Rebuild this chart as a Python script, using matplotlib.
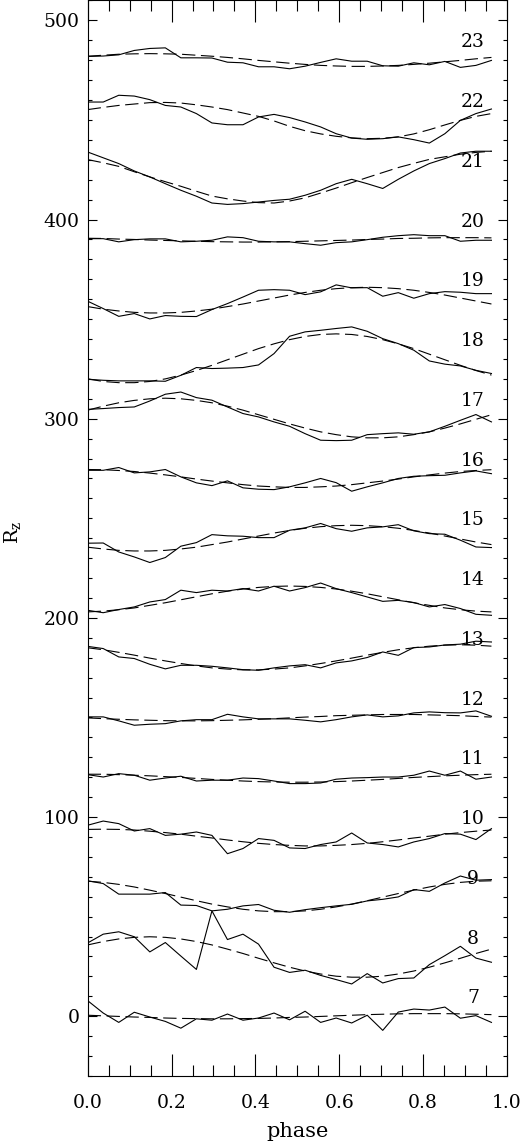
import matplotlib
matplotlib.use('Agg')
import matplotlib.pyplot as plt
import numpy as np
from matplotlib.ticker import MultipleLocator, FormatStrFormatter

plt.rcParams['font.family'] = ['DejaVu Serif']
plt.rcParams['mathtext.fontset'] = 'dejavuserif'

# 27 phase bins, 0 .. 26/27
phase = np.arange(27) / 27

# observed Rz (already shifted by 30 per cycle) and the fitted curves
obs_7 = [7.8, 1.6, -3.1, 2.0, -0.4, -2.6, -6.0, -1.3, -2.0, 1.1, -2.0, -0.9, 1.6, -1.8,
         2.5, -3.1, -0.9, -3.4, 0.5, -7.1, 2.1, 3.6, 3.1, 4.6, -1.0, 0.3, -3.1]
fit_7 = [0.5, 0.2, -0.1, -0.4, -0.6, -0.9, -1.1, -1.2, -1.3, -1.3, -1.2, -1.1, -0.9, -0.6,
         -0.4, -0.1, 0.2, 0.5, 0.8, 1.0, 1.2, 1.3, 1.3, 1.3, 1.2, 1.0, 0.8]

obs_8 = [36.8, 41.2, 42.4, 39.9, 32.3, 37.0, 30.2, 23.5, 52.9, 38.5, 41.2, 36.2, 24.6, 22.0,
         23.1, 20.5, 18.4, 16.2, 21.4, 16.7, 18.9, 19.2, 25.9, 30.4, 35.1, 29.2, 27.1]
fit_8 = [35.8, 37.5, 38.8, 39.6, 39.9, 39.6, 38.8, 37.5, 35.8, 33.7, 31.5, 29.1, 26.8, 24.6,
         22.7, 21.2, 20.1, 19.6, 19.6, 20.1, 21.2, 22.7, 24.6, 26.8, 29.1, 31.5, 33.7]

obs_9 = [68.0, 66.6, 61.3, 61.3, 61.3, 62.1, 55.8, 55.6, 52.9, 53.7, 55.4, 56.1, 53.2, 52.2,
         53.5, 54.5, 55.4, 56.2, 57.9, 58.7, 59.9, 63.6, 62.7, 66.9, 70.4, 68.3, 68.6]
fit_9 = [67.8, 67.2, 66.2, 64.9, 63.3, 61.6, 59.8, 58.0, 56.3, 54.9, 53.7, 52.9, 52.5, 52.5,
         52.9, 53.7, 54.9, 56.3, 58.0, 59.8, 61.6, 63.3, 64.9, 66.2, 67.2, 67.8, 68.0]

obs_10 = [95.9, 98.0, 96.7, 93.0, 94.2, 90.8, 91.4, 92.5, 90.8, 81.6, 84.2, 89.2, 88.3, 84.5,
          84.2, 86.2, 87.5, 92.0, 87.0, 86.2, 85.0, 87.5, 89.2, 91.7, 91.4, 88.7, 94.2]
fit_10 = [93.8, 93.9, 93.8, 93.5, 92.9, 92.2, 91.4, 90.4, 89.5, 88.5, 87.6, 86.8, 86.2, 85.8,
          85.5, 85.5, 85.8, 86.2, 86.8, 87.6, 88.5, 89.5, 90.4, 91.4, 92.2, 92.9, 93.5]

obs_11 = [121.3, 120.1, 121.8, 121.0, 118.5, 119.6, 120.5, 118.1, 118.5, 118.5, 119.6, 119.3,
          118.1, 116.8, 116.8, 117.1, 119.0, 119.6, 119.8, 120.1, 120.1, 121.0, 123.1, 121.0,
          123.1, 119.0, 120.1]
fit_11 = [121.5, 121.5, 121.3, 121.0, 120.7, 120.3, 119.9, 119.4, 118.9, 118.5, 118.1, 117.8,
          117.6, 117.5, 117.5, 117.6, 117.8, 118.1, 118.5, 118.9, 119.4, 119.9, 120.3, 120.7,
          121.0, 121.3, 121.5]

obs_12 = [150.3, 150.3, 148.3, 146.1, 146.6, 146.9, 148.3, 148.9, 148.9, 151.6, 150.3, 149.3,
          149.3, 149.3, 148.6, 147.8, 148.9, 150.3, 151.3, 150.3, 150.8, 152.3, 152.8, 152.4,
          152.3, 153.3, 150.6]
fit_12 = [149.8, 149.4, 149.1, 148.8, 148.6, 148.4, 148.3, 148.3, 148.4, 148.6, 148.8, 149.1,
          149.4, 149.8, 150.2, 150.5, 150.9, 151.1, 151.3, 151.5, 151.5, 151.5, 151.3, 151.1,
          150.9, 150.5, 150.2]

obs_13 = [185.7, 184.6, 180.4, 179.6, 176.7, 174.4, 176.2, 176.2, 175.7, 174.9, 174.0, 173.7,
          174.9, 175.9, 176.5, 174.9, 177.4, 178.4, 180.1, 182.9, 181.2, 185.1, 185.4, 186.4,
          186.8, 188.3, 187.9]
fit_13 = [185.0, 184.0, 182.7, 181.3, 179.8, 178.4, 177.1, 175.9, 174.9, 174.3, 173.9, 173.9,
          174.3, 174.9, 175.9, 177.1, 178.4, 179.8, 181.3, 182.7, 184.0, 185.0, 185.8, 186.3,
          186.5, 186.3, 185.8]

obs_14 = [203.8, 202.6, 204.2, 205.5, 208.0, 209.2, 213.9, 212.7, 213.9, 213.5, 214.7, 213.5,
          215.9, 213.5, 215.2, 217.5, 214.7, 212.7, 210.5, 208.3, 208.8, 207.7, 205.5, 206.7,
          204.7, 201.8, 201.3]
fit_14 = [203.0, 203.4, 204.1, 205.0, 206.3, 207.6, 209.1, 210.6, 212.1, 213.4, 214.5, 215.3,
          215.8, 216.0, 215.8, 215.3, 214.5, 213.4, 212.1, 210.6, 209.1, 207.6, 206.3, 205.0,
          204.1, 203.4, 203.0]

obs_15 = [237.5, 237.6, 233.1, 230.6, 227.8, 230.3, 236.0, 237.8, 241.8, 241.2, 241.0, 240.3,
          240.3, 244.0, 245.2, 247.4, 244.8, 243.5, 245.2, 245.7, 246.8, 243.7, 242.3, 242.0,
          239.0, 235.6, 235.3]
fit_15 = [235.5, 234.6, 233.9, 233.6, 233.6, 233.9, 234.6, 235.5, 236.8, 238.1, 239.6, 241.1,
          242.6, 243.9, 245.0, 245.8, 246.3, 246.5, 246.3, 245.8, 245.0, 243.9, 242.6, 241.1,
          239.6, 238.1, 236.8]

obs_16 = [274.1, 274.1, 275.5, 272.8, 273.3, 274.5, 270.8, 267.8, 266.4, 268.8, 265.3, 264.6,
          264.4, 265.8, 267.8, 270.0, 267.9, 263.6, 265.8, 267.8, 270.0, 271.1, 271.4, 271.6,
          272.8, 273.8, 272.4]
fit_16 = [274.5, 274.4, 274.0, 273.5, 272.7, 271.8, 270.8, 269.7, 268.7, 267.8, 266.9, 266.2,
          265.8, 265.5, 265.5, 265.8, 266.2, 266.9, 267.8, 268.7, 269.7, 270.8, 271.8, 272.7,
          273.5, 274.0, 274.4]

obs_17 = [304.7, 305.1, 305.6, 305.9, 308.9, 312.3, 313.4, 310.6, 309.3, 305.9, 302.6, 300.9,
          298.4, 296.2, 292.5, 289.2, 289.0, 289.2, 292.0, 292.5, 292.9, 292.2, 293.4, 296.2,
          299.2, 302.1, 298.4]
fit_17 = [304.3, 306.3, 308.0, 309.2, 310.0, 310.3, 310.0, 309.2, 308.0, 306.3, 304.3, 302.0,
          299.7, 297.4, 295.3, 293.4, 292.0, 290.9, 290.4, 290.4, 290.9, 292.0, 293.4, 295.3,
          297.4, 299.7, 302.0]

obs_18 = [319.8, 319.3, 319.0, 319.0, 319.0, 318.8, 321.8, 325.7, 325.2, 325.4, 325.7, 327.0,
          332.7, 341.4, 343.6, 344.4, 345.3, 346.1, 343.9, 340.2, 337.7, 334.4, 329.0, 327.4,
          326.5, 324.3, 322.7]
fit_18 = [320.0, 318.7, 318.1, 318.1, 318.7, 320.0, 321.9, 324.2, 326.8, 329.6, 332.4, 335.2,
          337.6, 339.7, 341.3, 342.3, 342.6, 342.3, 341.3, 339.7, 337.6, 335.2, 332.4, 329.6,
          326.8, 324.2, 321.9]

obs_19 = [359.0, 355.3, 351.4, 352.8, 350.1, 351.8, 351.4, 351.3, 354.8, 357.8, 361.1, 364.5,
          364.8, 364.5, 362.3, 363.7, 367.2, 365.7, 365.8, 361.5, 363.3, 360.5, 362.8, 363.8,
          363.5, 362.8, 362.8]
fit_19 = [356.3, 355.0, 354.1, 353.4, 353.1, 353.1, 353.4, 354.1, 355.0, 356.3, 357.6, 359.1,
          360.6, 362.1, 363.4, 364.5, 365.3, 365.8, 366.0, 365.8, 365.3, 364.5, 363.4, 362.1,
          360.6, 359.1, 357.6]

obs_20 = [390.4, 390.4, 388.8, 389.9, 390.3, 390.3, 388.8, 389.1, 389.6, 391.3, 390.9, 389.1,
          388.8, 388.8, 387.9, 387.1, 388.4, 388.8, 389.9, 391.1, 391.9, 392.4, 391.9, 391.9,
          389.1, 389.6, 389.6]
fit_20 = [390.6, 390.5, 390.2, 390.0, 389.7, 389.5, 389.3, 389.1, 388.9, 388.8, 388.7, 388.7,
          388.8, 388.9, 389.1, 389.3, 389.5, 389.7, 390.0, 390.2, 390.5, 390.6, 390.8, 390.9,
          390.9, 390.9, 390.8]

obs_21 = [433.9, 431.0, 428.1, 424.4, 421.4, 418.0, 414.7, 411.7, 408.3, 407.6, 408.0, 408.8,
          409.6, 410.2, 412.2, 414.7, 418.0, 420.2, 418.0, 415.6, 420.2, 424.4, 428.1, 430.6,
          433.4, 434.3, 434.3]
fit_21 = [430.1, 428.5, 426.7, 424.0, 421.4, 419.0, 416.7, 414.2, 411.8, 410.4, 409.3, 408.5,
          408.3, 409.3, 410.9, 413.3, 415.8, 418.5, 421.1, 423.6, 426.1, 428.2, 430.2, 431.5,
          432.8, 433.7, 434.3]

obs_22 = [459.0, 459.0, 462.4, 462.0, 460.2, 457.3, 456.5, 453.2, 448.5, 447.6, 447.6, 451.5,
          452.8, 451.2, 449.0, 446.5, 443.1, 440.9, 440.3, 440.6, 441.5, 440.1, 438.4, 443.1,
          449.8, 453.2, 455.5]
fit_22 = [455.2, 456.3, 457.3, 458.0, 458.7, 458.8, 458.5, 457.6, 456.5, 455.2, 453.5, 451.8,
          449.5, 446.8, 444.6, 443.0, 441.8, 441.0, 440.6, 440.8, 441.5, 443.0, 445.1, 447.5,
          449.8, 451.8, 453.2]

obs_23 = [481.9, 482.1, 482.7, 484.9, 485.9, 486.2, 481.2, 481.2, 481.1, 479.0, 478.7, 476.7,
          476.7, 475.7, 477.0, 478.9, 480.7, 479.5, 479.5, 477.2, 477.0, 478.7, 477.7, 479.4,
          476.4, 477.4, 479.9]
fit_23 = [482.0, 482.5, 483.0, 483.2, 483.3, 483.2, 483.0, 482.5, 482.0, 481.4, 480.7, 479.9,
          479.2, 478.5, 477.9, 477.4, 477.1, 476.9, 476.9, 477.1, 477.4, 477.9, 478.5, 479.2,
          479.9, 480.7, 481.4]

cycles = [
    (7, obs_7, fit_7), (8, obs_8, fit_8), (9, obs_9, fit_9), (10, obs_10, fit_10),
    (11, obs_11, fit_11), (12, obs_12, fit_12), (13, obs_13, fit_13), (14, obs_14, fit_14),
    (15, obs_15, fit_15), (16, obs_16, fit_16), (17, obs_17, fit_17), (18, obs_18, fit_18),
    (19, obs_19, fit_19), (20, obs_20, fit_20), (21, obs_21, fit_21), (22, obs_22, fit_22),
    (23, obs_23, fit_23),
]

fig = plt.figure(figsize=(5.27, 11.46), dpi=100)
ax = fig.add_axes([0.1664, 0.0611, 0.7956, 0.9385])

for num, obs, fit in cycles:
    ax.plot(phase, obs, color='black', lw=0.8)
    ax.plot(phase, fit, color='black', lw=0.8, linestyle=(0, (12, 5)))
    # cycle number sits a bit above the curve baseline (30 per cycle)
    ax.text(0.919, 30 * (num - 7) + 9, str(num), ha='center', va='center', fontsize=13.5)

ax.set_xlim(0, 1)
ax.set_ylim(-30, 510)

ax.xaxis.set_major_locator(MultipleLocator(0.2))
ax.xaxis.set_minor_locator(MultipleLocator(0.05))
ax.xaxis.set_major_formatter(FormatStrFormatter('%.1f'))
ax.yaxis.set_major_locator(MultipleLocator(100))
ax.yaxis.set_minor_locator(MultipleLocator(10))

ax.tick_params(axis='x', which='major', direction='in', length=15.8, width=0.8,
               top=True, bottom=True, labelsize=13.5, pad=13)
ax.tick_params(axis='x', which='minor', direction='in', length=7.9, width=0.8,
               top=True, bottom=True)
ax.tick_params(axis='y', which='major', direction='in', length=6.5, width=0.8,
               left=True, right=True, labelsize=13.5, pad=6)
ax.tick_params(axis='y', which='minor', direction='in', length=3.2, width=0.8,
               left=True, right=True)
for sp in ax.spines.values():
    sp.set_linewidth(0.8)

ax.set_xlabel('phase', fontsize=15, labelpad=7)
ax.set_ylabel(r'R$_\mathrm{z}$', fontsize=14)
ax.yaxis.set_label_coords(-0.155, 0.506)

fig.savefig('out.png', dpi=100)
